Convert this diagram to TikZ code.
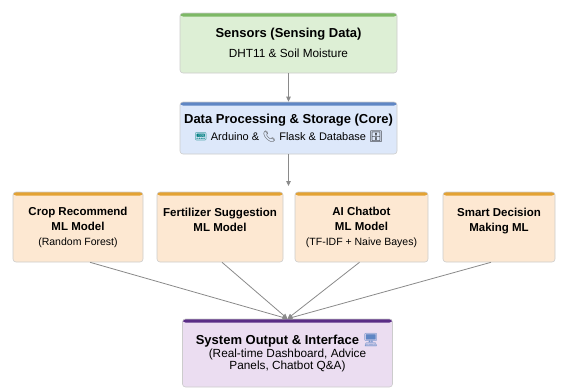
\documentclass[tikz,border=0pt]{standalone}
\usepackage{fontspec}
\setmainfont{Liberation Sans}
\newfontfamily\emoji{Noto Emoji}
\usetikzlibrary{arrows.meta}
\definecolor{sensfill}{HTML}{DDEFD5}
\definecolor{sensbar}{HTML}{7DB865}
\definecolor{procfill}{HTML}{DDE8FA}
\definecolor{procbar}{HTML}{5F86C4}
\definecolor{modfill}{HTML}{FDE8D2}
\definecolor{modbar}{HTML}{E3A233}
\definecolor{outfill}{HTML}{EBDDF1}
\definecolor{outbar}{HTML}{5A2D86}
\definecolor{linkgray}{HTML}{8A8A8A}
\newcommand\modelnote[1]{{\fontsize{10.5}{13}\selectfont\mdseries #1}}
\newcommand\subline[1]{{\fontsize{11.8}{13.5}\selectfont\mdseries #1}}
\newcommand\boxtitle[1]{{\fontsize{13}{15}\selectfont\bfseries #1}}
\begin{document}
\begin{tikzpicture}[x=1pt, y=-1pt, >={Triangle[length=5pt,width=4.5pt]},
  block/.style={rounded corners=3pt, draw=gray!40, line width=0.6pt, align=center, inner sep=2pt},
  topbar/.style={path picture={\fill[#1] (path picture bounding box.north west) rectangle ([yshift=-3.5pt]path picture bounding box.north east);}},
  sensor node/.style={block, fill=sensfill, topbar=sensbar, minimum width=217pt, minimum height=60pt},
  core node/.style={block, fill=procfill, topbar=procbar, minimum width=217pt, minimum height=52pt},
  model node/.style={block, fill=modfill, topbar=modbar, minimum height=70pt, font=\fontsize{11.5}{15}\selectfont\bfseries},
  output node/.style={block, fill=outfill, topbar=outbar, minimum width=210pt, minimum height=68pt}]%
\useasboundingbox (0,0) rectangle (564,388);
\begin{scope}
\node[sensor node] (sens) at (288.5,43) {\boxtitle{Sensors (Sensing Data)}\\[8pt]\subline{DHT11 \& Soil Moisture}};
\node[core node] (proc) at (288.5,128) {\boxtitle{Data Processing \& Storage (Core)}\\[4pt]{\fontsize{11}{13}\selectfont{\emoji\textcolor{teal}{📟}} Arduino \& {\emoji\textcolor{darkgray}{📞}} Flask \& Database {\emoji 🗄}}};
\node[model node, minimum width=130pt] (crop) at (78,227) {Crop Recommend\\ML Model\\\modelnote{(Random Forest)}};
\node[model node, minimum width=126pt] (fert) at (220,227) {Fertilizer Suggestion\\ML Model\\\modelnote{\mbox{}}};
\node[model node, minimum width=133pt] (chat) at (361.5,227) {AI Chatbot\\ML Model\\\modelnote{(TF-IDF + Naive Bayes)}};
\node[model node, minimum width=112pt] (smart) at (499,227) {Smart Decision\\Making ML\\\modelnote{\mbox{}}};
\node[output node] (out) at (287.5,353) {\boxtitle{System Output \& Interface {\emoji\textcolor{procbar}{🖥}}}\\[1pt]\subline{(Real-time Dashboard, Advice}\\\subline{Panels, Chatbot Q\&A)}};
\coordinate (fork) at (288.5,186);
\end{scope}
\begin{scope}[every edge/.style={draw=linkgray, line width=0.8pt, ->}]
\draw (sens) edge (proc);
\draw (proc) edge (fork);
\draw ([xshift=12pt]crop.south) edge (out.north);
\draw ([xshift=2pt]fert.south) edge (out.north);
\draw ([xshift=-2pt]chat.south) edge (out.north);
\draw ([xshift=-8pt]smart.south) edge (out.north);
\end{scope}
\end{tikzpicture}
\end{document}
